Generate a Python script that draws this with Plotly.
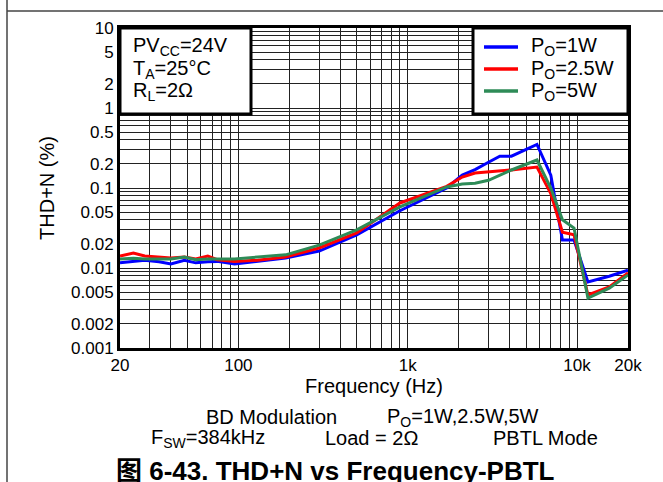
import plotly.graph_objects as go

# frequency points (Hz) and THD+N (%)
freq = [20, 24, 28, 34, 40, 48, 56, 66, 75, 95, 130, 190, 300, 500, 900,
        1700, 2100, 2500, 3000, 3500, 4100, 5800, 7000, 8200, 9600, 11600,
        15500, 20000]
thd_1w = [0.0116, 0.0120, 0.0125, 0.0120, 0.0112, 0.0125, 0.0116, 0.0120,
          0.0121, 0.0112, 0.0120, 0.0133, 0.0163, 0.026, 0.052, 0.100, 0.145,
          0.170, 0.21, 0.25, 0.25, 0.35, 0.145, 0.0224, 0.0224, 0.0067,
          0.0079, 0.0094]
thd_2w5 = [0.0141, 0.0154, 0.0141, 0.0138, 0.0133, 0.0137, 0.0130, 0.0141,
           0.0127, 0.0121, 0.0125, 0.0137, 0.0178, 0.0274, 0.065, 0.105,
           0.137, 0.154, 0.158, 0.163, 0.168, 0.183, 0.085, 0.028, 0.026,
           0.0046, 0.0058, 0.0087]
thd_5w = [0.0130, 0.0132, 0.0130, 0.0130, 0.0130, 0.0137, 0.0127, 0.0130,
          0.0130, 0.0130, 0.0137, 0.0146, 0.0193, 0.030, 0.058, 0.103, 0.112,
          0.115, 0.125, 0.145, 0.168, 0.224, 0.10, 0.040, 0.0316, 0.0042,
          0.0056, 0.0082]

series_names = ["P<sub>O</sub>=1W", "P<sub>O</sub>=2.5W", "P<sub>O</sub>=5W"]
series_colors = ["#0000ff", "#ff0000", "#2e8b57"]

x_grid = [20, 30, 40, 50, 60, 70, 80, 90, 100, 200, 300, 400, 500, 600, 700,
          800, 900, 1000, 2000, 3000, 4000, 5000, 6000, 7000, 8000, 9000,
          10000, 20000]
x_labels = {20: "20", 100: "100", 1000: "1k", 10000: "10k", 20000: "20k"}
y_grid = [m * 10 ** e for e in range(-3, 1) for m in range(1, 10)] + [10]
y_labels = {0.001: "0.001", 0.002: "0.002", 0.005: "0.005", 0.01: "0.01",
            0.02: "0.02", 0.05: "0.05", 0.1: "0.1", 0.2: "0.2", 0.5: "0.5",
            1: "1", 2: "2", 5: "5", 10: "10"}

W, H = 663, 482
L, R, T, B = 120, 35, 28, 134


def px(x):
    return (x - L) / (W - L - R)


def py(y):
    return (H - B - y) / (H - T - B)


fig = go.Figure()
for vals, name, col in zip([thd_1w, thd_2w5, thd_5w], series_names, series_colors):
    fig.add_trace(go.Scatter(x=freq, y=vals, mode="lines", name=name,
                             line=dict(color=col, width=3)))

font = "Liberation Sans, Arial, sans-serif"
ytick_text = []
for v in y_grid:
    lab = ""
    for k, s in y_labels.items():
        if abs(v - k) < k * 1e-6:
            lab = s
    ytick_text.append(lab)

fig.update_layout(
    width=W, height=H,
    margin=dict(l=L, r=R, t=T, b=B),
    paper_bgcolor="white", plot_bgcolor="white",
    showlegend=False,
    font=dict(family=font, size=17, color="black"),
    xaxis=dict(type="log", range=[1.30103, 4.30103],
               tickvals=x_grid, ticktext=[x_labels.get(v, "") for v in x_grid],
               ticks="", showgrid=True, gridcolor="#222", gridwidth=1,
               showline=True, linecolor="black", linewidth=3, mirror=True,
               title=dict(text="Frequency (Hz)", standoff=4),
               zeroline=False),
    yaxis=dict(type="log", range=[-3, 1],
               tickvals=y_grid, ticktext=ytick_text, tickfont=dict(size=17),
               ticks="", showgrid=True, gridcolor="#222", gridwidth=1,
               showline=True, linecolor="black", linewidth=3, mirror=True,
               title=dict(text="THD+N (%)", standoff=12),
               zeroline=False),
)

shapes = [
    # outer frame lines of the page
    dict(type="line", xref="paper", yref="paper", x0=px(7), x1=px(W), y0=py(11), y1=py(11),
         line=dict(color="#444", width=1.5)),
    dict(type="line", xref="paper", yref="paper", x0=px(7), x1=px(7), y0=py(0), y1=py(H),
         line=dict(color="#444", width=1.5)),
    # conditions box and legend box
    dict(type="rect", xref="paper", yref="paper", x0=0, x1=px(251), y0=py(114), y1=1,
         fillcolor="white", line=dict(color="black", width=3), layer="above"),
    dict(type="rect", xref="paper", yref="paper", x0=px(473), x1=1, y0=py(114), y1=1,
         fillcolor="white", line=dict(color="black", width=3), layer="above"),
]
ann = []
for i, (name, col) in enumerate(zip(series_names, series_colors)):
    yy = 47 + 22 * i
    shapes.append(dict(type="line", xref="paper", yref="paper", x0=px(484), x1=px(518),
                       y0=py(yy), y1=py(yy), line=dict(color=col, width=3.5), layer="above"))
    ann.append(dict(text=name, x=px(529), y=py(yy), xanchor="left", yanchor="middle",
                    font=dict(size=20)))

for i, t in enumerate(["PV<sub>CC</sub>=24V", "T<sub>A</sub>=25°C", "R<sub>L</sub>=2Ω"]):
    ann.append(dict(text=t, x=px(131), y=py(47 + 22 * i), xanchor="left", yanchor="middle",
                    font=dict(size=20)))

bottom = [("BD Modulation", 271, 417), ("P<sub>O</sub>=1W,2.5W,5W", 463, 417),
          ("F<sub>SW</sub>=384kHz", 208, 438), ("Load = 2Ω", 371, 438),
          ("PBTL Mode", 545, 438)]
for t, xx, yy in bottom:
    ann.append(dict(text=t, x=px(xx), y=py(yy), xanchor="center", yanchor="middle",
                    font=dict(size=20)))

ann.append(dict(text="<b>图 6-43. THD+N vs Frequency-PBTL</b>", x=px(335), y=py(471),
                xanchor="center", yanchor="middle",
                font=dict(size=26, family="Liberation Sans, Noto Sans CJK SC, sans-serif")))

for a in ann:
    a.update(xref="paper", yref="paper", showarrow=False)

fig.update_layout(shapes=shapes, annotations=ann)

# drop the browser's default page margin so the figure sits at the window corner
fig.write_html("out.html", config={"displayModeBar": False},
               post_script="document.body.style.margin='0';")
